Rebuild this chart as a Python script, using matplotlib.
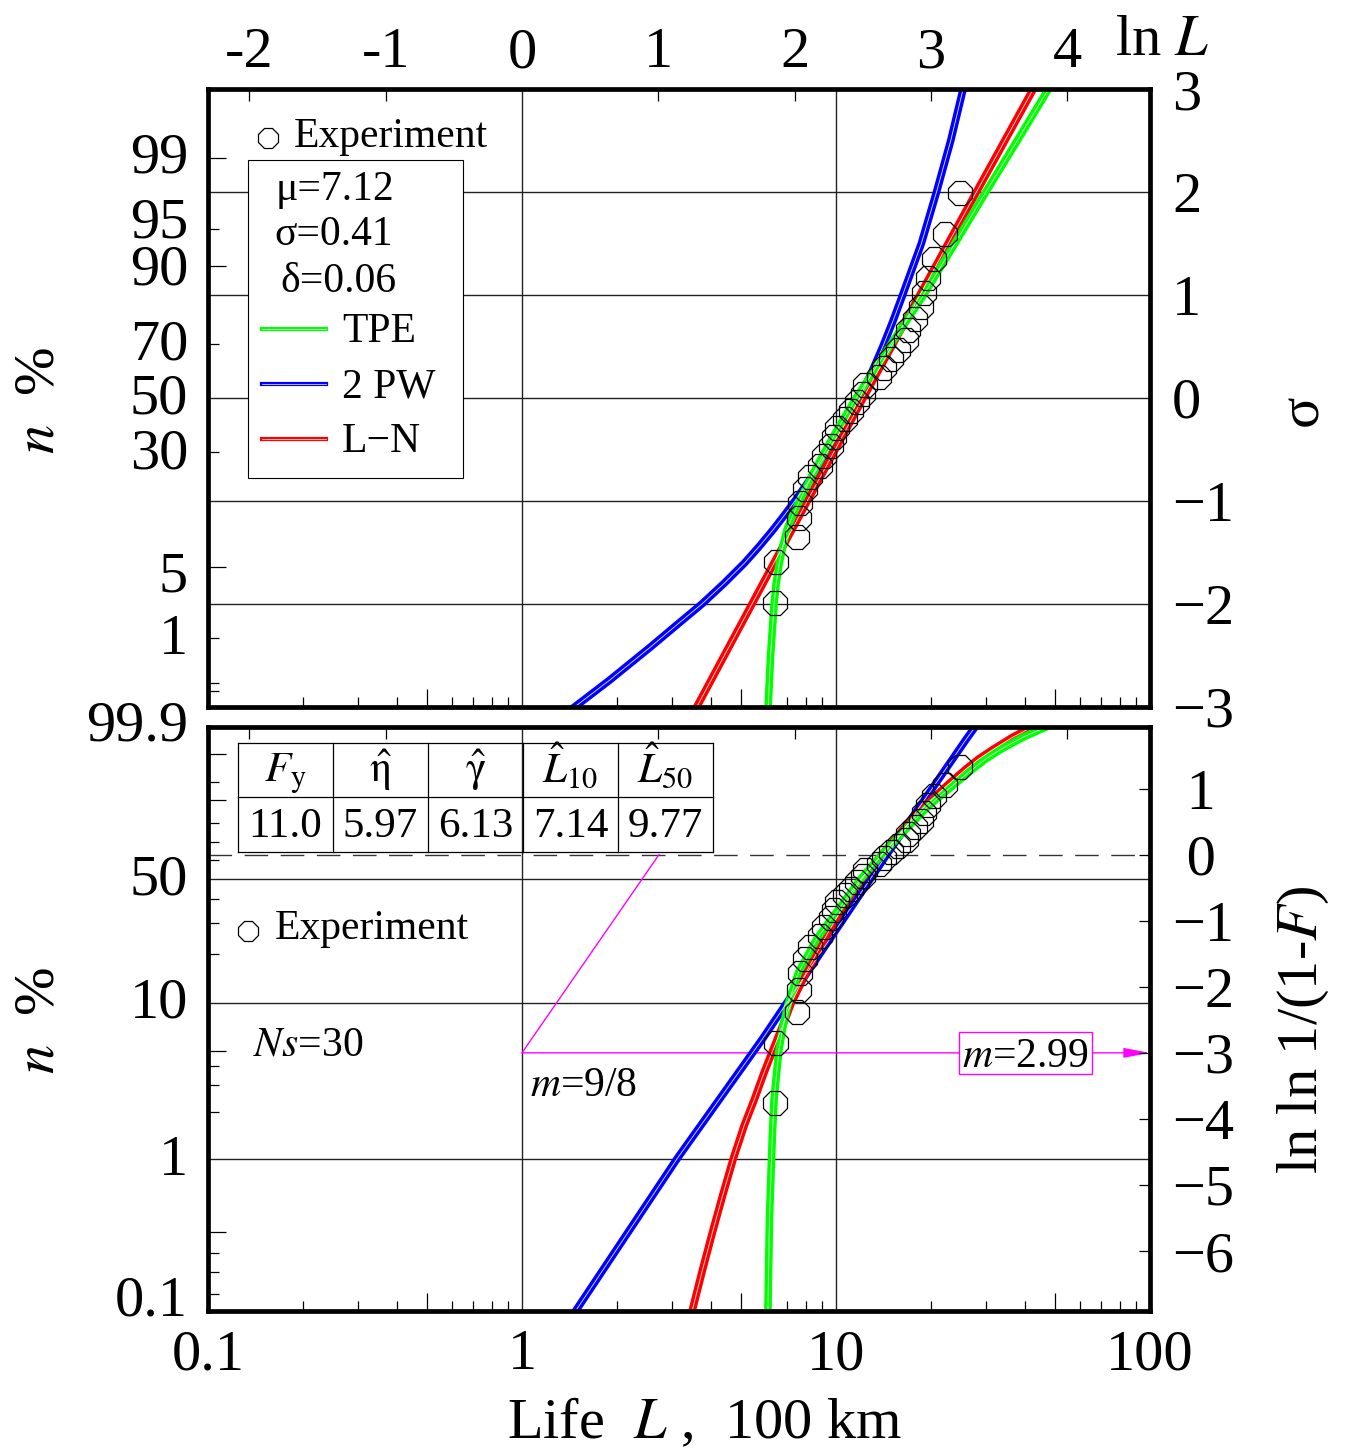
import numpy as np
import matplotlib
matplotlib.use("Agg")
import matplotlib.pyplot as plt
from matplotlib.lines import Line2D
from matplotlib.patches import Rectangle
from matplotlib.ticker import NullLocator
from matplotlib.transforms import ScaledTranslation

plt.rcParams["font.family"] = ["Liberation Serif", "DejaVu Serif"]
plt.rcParams["mathtext.fontset"] = "stix"

# ---------------- data ----------------
life_experiment = [6.38, 6.44, 7.51, 7.60, 7.69, 7.98, 8.28, 8.92, 9.14, 9.67,
                   9.84, 10.1, 10.7, 11.2, 11.7, 12.2, 12.4, 13.7, 14.2, 15.0,
                   15.8, 16.7, 16.9, 17.9, 18.7, 19.0, 19.7, 20.5, 22.3, 24.8]
sample_size = 30

# upper panel (normal probability paper): curves as (sigma, life)
tpe_sigma = [-3.0, -2.5, -2.0, -1.8, -1.6, -1.45, -1.28, -1.14, -1.0, -0.75, -0.5,
             -0.25, 0.0, 0.5, 1.0, 1.5, 2.0, 2.5, 3.0]
tpe_life_top = [6.08, 6.19, 6.35, 6.45, 6.60, 6.76, 6.98, 7.28, 7.65, 8.4, 9.3,
                10.35, 11.6, 14.8, 19.0, 23.9, 30.0, 37.8, 47.5]
pw_sigma = [-3.0, -2.74, -2.42, -2.2, -2.0, -1.8, -1.6, -1.44, -1.28, -1.14, -1.0,
            -0.75, -0.5, -0.25, 0.0, 0.25, 0.5, 0.75, 1.0, 1.5, 2.0, 2.5, 3.0]
pw_life_top = [1.47, 1.90, 2.56, 3.12, 3.74, 4.40, 5.12, 5.70, 6.3, 6.84, 7.4,
               8.45, 9.5, 10.7, 11.9, 13.0, 14.1, 15.2, 16.3, 18.7, 20.9, 23.2, 25.4]
ln_sigma = [-3.0, -2.0, -1.0, 0.0, 1.0, 2.0, 3.0]
ln_life_top = [3.6, 5.4, 8.1, 12.2, 18.5, 28.0, 42.5]

# lower panel (Weibull paper): curves as (ln ln 1/(1-F), life)
tpe_lnln = [-6.91, -5.5, -4.25, -3.7, -2.98, -2.6, -2.25, -1.78, -1.27, -0.77, -0.366,
            0.0, 0.4, 0.747, 1.05, 1.3, 1.45, 1.6, 1.78, 1.94]
tpe_life_bot = [6.07, 6.14, 6.27, 6.35, 6.57, 6.78, 7.05, 7.6, 8.70, 10.4, 12.0,
                14.0, 16.8, 19.8, 23.6, 27.3, 30.0, 33.6, 39.5, 47.0]
pw_lnln = [-6.91, -4.6, -2.79, 0.0, 1.76, 1.94]
pw_life_bot = [1.48, 3.12, 5.83, 14.5, 26.1, 27.8]
ln_lnln = [-6.91, -6.3, -5.7, -5.15, -4.6, -4.1, -3.7, -3.3, -2.98, -2.6, -2.25, -1.75,
           -1.27, -0.8, -0.366, 0.0, 0.4, 0.747, 1.05, 1.3, 1.45, 1.6, 1.78, 1.94]
ln_life_bot = [3.48, 3.75, 4.05, 4.36, 4.71, 5.1, 5.5, 5.9, 6.27, 6.75, 7.2, 8.1,
               9.2, 10.5, 12.1, 14.0, 16.5, 19.3, 22.6, 26.0, 28.5, 31.8, 36.6, 42.5]

# slope construction on Weibull paper
slope_life = [1.0, 2.73]
slope_lnln = [-3.0, 0.0]
slope_level = -3.0

# texts / tick labels
param_lines = ["\u03bc=7.12", "\u03c3=0.41", "\u03b4=0.06"]
curve_names = ["TPE", "2 PW", "L\u2212N"]
curve_colors = ["#00ff00", "#0000ff", "#ff0000"]
table_headers = [r"$F_{\mathrm{y}}$", r"$\hat{\mathrm{\eta}}$", r"$\hat{\mathrm{\gamma}}$",
                 r"$\hat{L}_{10}$", r"$\hat{L}_{50}$"]
table_values = ["11.0", "5.97", "6.13", "7.14", "9.77"]

top_pct_labels = [99, 95, 90, 70, 50, 30, 5, 1]
top_pct_nudge = [0, -5, 4, 2, 2, 2, 10, 2]          # px, label placement only
top_pct_long = [99, 90, 5]
top_pct_short = [95, 70, 30, 1, 0.28, 0.22]
bot_pct_labels = [99.9, 50, 10, 1, 0.1]
bot_pct_label_text = ["99.9", "50", "10", "1", "0.1"]
bot_pct_nudge = [0, 2, 0, 2, -10]
bot_pct_long = [99, 90, 5, 0.33]
bot_pct_short = [95, 80, 70, 60, 40, 30, 20, 4, 3, 2, 0.24, 0.18, 0.13]
sigma_ticks = [-3, -2, -1, 0, 1, 2, 3]
lnln_ticks = [-6, -5, -4, -3, -2, -1, 0, 1]
lnL_ticks = [-2, -1, 0, 1, 2, 3, 4]
life_ticks = [0.1, 1, 10, 100]
life_minor_short = [0.2, 0.3, 0.4, 0.6, 0.7, 0.8, 0.9, 2, 3, 4, 6, 7, 8, 9,
                    20, 30, 40, 60, 70, 80, 90]
life_minor_long = [0.5, 5, 50]


# ---------------- helpers ----------------
def norm_ppf(p):
    p = np.atleast_1d(np.asarray(p, float))
    a = [-3.969683028665376e+01, 2.209460984245205e+02, -2.759285104469687e+02,
         1.383577518672690e+02, -3.066479806614716e+01, 2.506628277459239e+00]
    b = [-5.447609879822406e+01, 1.615858368580409e+02, -1.556989798598866e+02,
         6.680131188771972e+01, -1.328068155288572e+01]
    c = [-7.784894002430293e-03, -3.223964580411365e-01, -2.400758277161838e+00,
         -2.549732539343734e+00, 4.374664141464968e+00, 2.938163982698783e+00]
    d = [7.784695709041462e-03, 3.224671290700398e-01, 2.445134137142996e+00,
         3.754408661907416e+00]
    plow = 0.02425
    x = np.empty_like(p)
    lo = p < plow
    hi = p > 1 - plow
    mid = ~(lo | hi)
    q = np.sqrt(-2 * np.log(p[lo]))
    x[lo] = (((((c[0]*q+c[1])*q+c[2])*q+c[3])*q+c[4])*q+c[5]) / ((((d[0]*q+d[1])*q+d[2])*q+d[3])*q+1)
    q = np.sqrt(-2 * np.log(1 - p[hi]))
    x[hi] = -(((((c[0]*q+c[1])*q+c[2])*q+c[3])*q+c[4])*q+c[5]) / ((((d[0]*q+d[1])*q+d[2])*q+d[3])*q+1)
    q = p[mid] - 0.5
    r = q * q
    x[mid] = (((((a[0]*r+a[1])*r+a[2])*r+a[3])*r+a[4])*r+a[5])*q / (((((b[0]*r+b[1])*r+b[2])*r+b[3])*r+b[4])*r+1)
    return x


def lnln(F):
    F = np.asarray(F, float)
    return np.log(-np.log(1 - F))


W, H = 1346, 1450
fig = plt.figure(figsize=(W / 100, H / 100), dpi=100)
fig.patch.set_facecolor("white")


def P(x, y):
    return (x / W, 1 - y / H)


def box(l, t, r, b):
    return [l / W, 1 - b / H, (r - l) / W, (b - t) / H]


ax1 = fig.add_axes(box(208, 89, 1150, 707))
ax2 = fig.add_axes(box(208, 727, 1150, 1311))

TICK_FS = 42
TEXT_FS = 30

for ax in (ax1, ax2):
    ax.set_xscale("log")
    ax.set_xlim(0.1, 100)
    ax.xaxis.set_minor_locator(NullLocator())
    for s in ax.spines.values():
        s.set_linewidth(3.4)
        s.set_color("black")
        s.set_zorder(10)

ax1.set_ylim(-3, 3)
ylo, yhi = lnln(0.001), lnln(0.999)
ax2.set_ylim(ylo, yhi)


def ticks_x(ax, vals, length_px, where):
    frac = length_px / (ax.get_position().height * H)
    tr = ax.get_xaxis_transform()
    y0, y1 = (0, frac) if where == "bottom" else (1 - frac, 1)
    for v in vals:
        ax.plot([v, v], [y0, y1], transform=tr, color="k", lw=0.9, zorder=2,
                clip_on=False, solid_capstyle="butt")


def ticks_y(ax, vals, length_px, where):
    frac = length_px / (ax.get_position().width * W)
    tr = ax.get_yaxis_transform()
    x0, x1 = (0, frac) if where == "left" else (1 - frac, 1)
    for v in vals:
        ax.plot([x0, x1], [v, v], transform=tr, color="k", lw=0.9, zorder=2,
                clip_on=False, solid_capstyle="butt")


def left_labels(ax, yvals, texts, nudges):
    for yv, txt, dy in zip(yvals, texts, nudges):
        tr = ax.get_yaxis_transform() + ScaledTranslation(-20 / 100, -dy / 100,
                                                          fig.dpi_scale_trans)
        ax.text(0, yv, txt, transform=tr, ha="right", va="center",
                fontsize=TICK_FS, clip_on=False)


def draw_curve(ax, x, y, color):
    ax.plot(x, y, color=color, lw=5.5, zorder=3, solid_joinstyle="round")
    ax.plot(x, y, color="white", lw=0.6, alpha=0.9, zorder=3.05)


grid_kw = dict(color="#222222", lw=1.0, zorder=1)

# ---------------- upper panel ----------------
for s in [-2, -1, 0, 1, 2]:
    ax1.axhline(s, **grid_kw)
for v in [1, 10]:
    ax1.axvline(v, **grid_kw)

draw_curve(ax1, pw_life_top, pw_sigma, curve_colors[1])
draw_curve(ax1, ln_life_top, ln_sigma, curve_colors[2])
draw_curve(ax1, tpe_life_top, tpe_sigma, curve_colors[0])

ranks = np.arange(1, sample_size + 1)
F_exp = (ranks - 0.3) / (sample_size + 0.4)
ax1.plot(life_experiment, norm_ppf(F_exp), linestyle="none", marker="8", ms=18,
         mfc="none", mec="black", mew=0.9, zorder=6)

ax1.set_xticks([])
ax1.set_yticks([])
left_labels(ax1, norm_ppf(np.array(top_pct_labels) / 100.0),
            [str(v) for v in top_pct_labels], top_pct_nudge)

ticks_x(ax1, life_minor_short, 10, "bottom")
ticks_x(ax1, life_minor_long, 18, "bottom")
ticks_x(ax1, [np.exp(v) for v in lnL_ticks if v != 0], 12, "top")
ticks_y(ax1, norm_ppf(np.array(top_pct_long) / 100.0), 18, "left")
ticks_y(ax1, norm_ppf(np.array(top_pct_short) / 100.0), 11, "left")

ax1r = ax1.twinx()
ax1r.set_ylim(-3, 3)
ax1r.set_yticks(sigma_ticks)
ax1r.set_yticklabels([("\u2212" + str(-v)) if v < 0 else str(v) for v in sigma_ticks])
ax1r.tick_params(axis="y", length=0, pad=16, labelsize=TICK_FS)
ax1r.set_frame_on(False)

ax1t = ax1.twiny()
ax1t.set_xscale("log")
ax1t.set_xlim(0.1, 100)
ax1t.xaxis.set_minor_locator(NullLocator())
ax1t.set_xticks([np.exp(v) for v in lnL_ticks])
ax1t.set_xticklabels([str(v) for v in lnL_ticks])
ax1t.tick_params(axis="x", length=0, pad=7, labelsize=TICK_FS)
ax1t.set_frame_on(False)

# legend box of upper panel
ax1.add_patch(Rectangle(P(248, 478), (463 - 248) / W, (478 - 160) / H,
                        transform=fig.transFigure, fc="white", ec="black", lw=0.8, zorder=4))
fig.add_artist(Line2D([268 / W], [1 - 138 / H], marker="8", ms=15, mfc="none",
                      mec="black", mew=0.9, transform=fig.transFigure))
fig.text(*P(294, 147), "Experiment", fontsize=TEXT_FS, ha="left", va="baseline")
for txt, (x, yb) in zip(param_lines, [(276, 200), (274, 245), (280, 292)]):
    fig.text(*P(x, yb), txt, fontsize=TEXT_FS, ha="left", va="baseline")
for name, col, yl in zip(curve_names, curve_colors, [329, 384, 439]):
    fig.add_artist(Line2D([262 / W, 326 / W], [1 - yl / H, 1 - yl / H], color=col, lw=3,
                          transform=fig.transFigure))
    fig.add_artist(Line2D([262 / W, 326 / W], [1 - yl / H, 1 - yl / H], color="white", lw=0.5,
                          transform=fig.transFigure))
    fig.text(*P(342, yl + 13), name, fontsize=TEXT_FS, ha="left", va="baseline")

# ---------------- lower panel ----------------
for F in [0.5, 0.1, 0.01]:
    ax2.axhline(lnln(F), **grid_kw)
ax2.axhline(0.0, color="#333333", lw=1.0, dashes=(17, 9), zorder=1)
for v in [1, 10]:
    ax2.axvline(v, **grid_kw)

draw_curve(ax2, pw_life_bot, pw_lnln, curve_colors[1])
draw_curve(ax2, ln_life_bot, ln_lnln, curve_colors[2])
draw_curve(ax2, tpe_life_bot, tpe_lnln, curve_colors[0])

ax2.plot(life_experiment, lnln(F_exp), linestyle="none", marker="8", ms=18,
         mfc="none", mec="black", mew=0.9, zorder=6)

# slope construction
ax2.plot(slope_life, slope_lnln, color="magenta", lw=1.0, zorder=2)
ax2.annotate("", xy=(100, slope_level), xytext=(1, slope_level),
             arrowprops=dict(arrowstyle="-|>,head_length=0.8,head_width=0.15",
                             color="magenta", lw=1.0, mutation_scale=20,
                             shrinkA=0, shrinkB=0), zorder=2)

ax2.set_xticks(life_ticks)
ax2.set_xticklabels(["0.1", "1", "10", "100"])
ax2.tick_params(axis="x", length=0, pad=13, labelsize=TICK_FS)
ax2.set_yticks([])
left_labels(ax2, lnln(np.array(bot_pct_labels) / 100.0), bot_pct_label_text, bot_pct_nudge)

ticks_x(ax2, life_minor_short, 10, "bottom")
ticks_x(ax2, life_minor_long, 18, "bottom")
ticks_x(ax2, [np.exp(v) for v in lnL_ticks if v != 0], 12, "top")
ticks_y(ax2, lnln(np.array(bot_pct_long) / 100.0), 18, "left")
ticks_y(ax2, lnln(np.array(bot_pct_short) / 100.0), 11, "left")
ticks_y(ax2, lnln_ticks, 11, "right")

ax2r = ax2.twinx()
ax2r.set_ylim(ylo, yhi)
ax2r.set_yticks(lnln_ticks)
ax2r.set_yticklabels([("\u2212" + str(-v)) if v < 0 else (" " + str(v)) for v in lnln_ticks])
ax2r.tick_params(axis="y", length=0, pad=16, labelsize=TICK_FS)
ax2r.set_frame_on(False)

# table
xs = [238, 333, 428, 523, 618, 713]
ys = [743, 797, 852]
tkw = dict(color="black", lw=0.9, transform=fig.transFigure)
for y in ys:
    fig.add_artist(Line2D([xs[0] / W, xs[-1] / W], [1 - y / H, 1 - y / H], **tkw))
for x in xs:
    fig.add_artist(Line2D([x / W, x / W], [1 - ys[0] / H, 1 - ys[-1] / H], **tkw))
for i in range(5):
    cx = (xs[i] + xs[i + 1]) / 2
    fig.text(*P(cx, 782), table_headers[i], fontsize=31, ha="center", va="baseline")
    fig.text(*P(cx, 837), table_values[i], fontsize=31, ha="center", va="baseline")

# lower panel annotations
fig.add_artist(Line2D([248 / W], [1 - 931 / H], marker="8", ms=15, mfc="none",
                      mec="black", mew=0.9, transform=fig.transFigure))
fig.text(*P(275, 939), "Experiment", fontsize=TEXT_FS, ha="left", va="baseline")
fig.text(*P(253, 1055), r"$Ns$=30", fontsize=TEXT_FS, ha="left", va="baseline")
fig.text(*P(530, 1096), r"$m$=9/8", fontsize=TEXT_FS, ha="left", va="baseline")
fig.add_artist(Rectangle(P(959, 1074), (1092 - 959) / W, (1074 - 1032) / H,
                         transform=fig.transFigure, fc="white", ec="magenta", lw=1.0, zorder=3))
t = fig.text(*P(1025, 1067), r"$m$=2.99", fontsize=TEXT_FS, ha="center", va="baseline")
t.set_zorder(4)

# axis titles
fig.text(*P(1115, 55), r"ln $L$", fontsize=TICK_FS, ha="left", va="baseline")
fig.text(*P(705, 1438), r"Life  $L$ ,  100 km", fontsize=TICK_FS, ha="center", va="baseline")
fig.text(*P(40, 400), r"$n$  %", fontsize=TICK_FS, ha="center", va="center", rotation=90)
fig.text(*P(40, 1020), r"$n$  %", fontsize=TICK_FS, ha="center", va="center", rotation=90)
fig.text(*P(1303, 410), "\u03c3", fontsize=TICK_FS, ha="center", va="center", rotation=90)
fig.text(*P(1303, 1030), r"ln ln 1/(1-$F$)", fontsize=TICK_FS, ha="center", va="center",
         rotation=90)

fig.savefig("out.png", dpi=100)
